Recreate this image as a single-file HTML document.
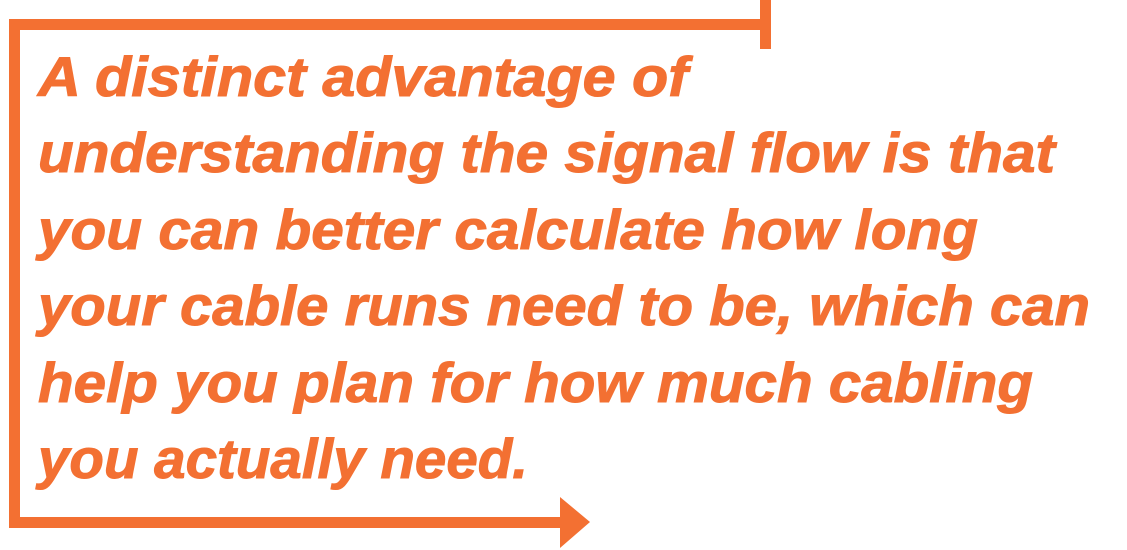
<!DOCTYPE html>
<html><head><style>
html,body{margin:0;padding:0;background:#fff;width:1127px;height:550px;overflow:hidden}
</style></head><body>
<svg width="1127" height="550" viewBox="0 0 1127 550" xmlns="http://www.w3.org/2000/svg">
<g fill="#F37032">
<rect x="760" y="0" width="11" height="49"/>
<rect x="9" y="19" width="762" height="11"/>
<rect x="9" y="19" width="11" height="509"/>
<rect x="9" y="517" width="555" height="11"/>
<polygon points="560,497 590,522 560,548"/>
</g>
<g fill="#F37032" stroke="#F37032" stroke-width="1" font-family="Liberation Sans, sans-serif" font-weight="bold" font-style="italic" font-size="56">
<text x="38" y="96" textLength="650" lengthAdjust="spacingAndGlyphs">A distinct advantage of</text>
<text x="38" y="172" textLength="1017" lengthAdjust="spacingAndGlyphs">understanding the signal flow is that</text>
<text x="38" y="249" textLength="940" lengthAdjust="spacingAndGlyphs">you can better calculate how long</text>
<text x="38" y="325" textLength="1052" lengthAdjust="spacingAndGlyphs">your cable runs need to be, which can</text>
<text x="38" y="402" textLength="995" lengthAdjust="spacingAndGlyphs">help you plan for how much cabling</text>
<text x="38" y="478" textLength="490" lengthAdjust="spacingAndGlyphs">you actually need.</text>
</g>
</svg>
</body></html>
